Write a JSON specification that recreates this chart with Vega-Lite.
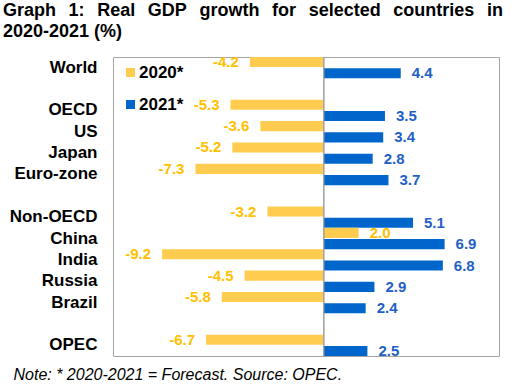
{
  "$schema": "https://vega.github.io/schema/vega-lite/v6.json",
  "width": 386,
  "height": 299,
  "autosize": "none",
  "padding": {"left": 113, "top": 57, "right": 16, "bottom": 33},
  "background": "white",
  "title": {
    "text": ["Graph\u2002\u20091:\u2002\u2009Real\u2002\u2009GDP\u2002\u2009growth\u2002\u2009for\u2002\u2009selected\u2002\u2009countries\u2002\u2009in", "2020-2021 (%)"],
    "anchor": "start",
    "frame": "group",
    "dx": -110,
    "offset": 14,
    "fontSize": 18,
    "fontWeight": "bold",
    "font": "Liberation Sans",
    "color": "black",
    "lineHeight": 21
  },
  "data": {
    "values": [
      {"region": "World", "year": "2020*", "value": -4.2},
      {"region": "World", "year": "2021*", "value": 4.4},
      {"region": "OECD", "year": "2020*", "value": -5.3},
      {"region": "OECD", "year": "2021*", "value": 3.5},
      {"region": "US", "year": "2020*", "value": -3.6},
      {"region": "US", "year": "2021*", "value": 3.4},
      {"region": "Japan", "year": "2020*", "value": -5.2},
      {"region": "Japan", "year": "2021*", "value": 2.8},
      {"region": "Euro-zone", "year": "2020*", "value": -7.3},
      {"region": "Euro-zone", "year": "2021*", "value": 3.7},
      {"region": "Non-OECD", "year": "2020*", "value": -3.2},
      {"region": "Non-OECD", "year": "2021*", "value": 5.1},
      {"region": "China", "year": "2020*", "value": 2.0},
      {"region": "China", "year": "2021*", "value": 6.9},
      {"region": "India", "year": "2020*", "value": -9.2},
      {"region": "India", "year": "2021*", "value": 6.8},
      {"region": "Russia", "year": "2020*", "value": -4.5},
      {"region": "Russia", "year": "2021*", "value": 2.9},
      {"region": "Brazil", "year": "2020*", "value": -5.8},
      {"region": "Brazil", "year": "2021*", "value": 2.4},
      {"region": "OPEC", "year": "2020*", "value": -6.7},
      {"region": "OPEC", "year": "2021*", "value": 2.5}
    ]
  },
  "encoding": {
    "y": {
      "field": "region",
      "type": "nominal",
      "scale": {
        "domain": ["World", "gap1", "OECD", "US", "Japan", "Euro-zone", "gap2", "Non-OECD", "China", "India", "Russia", "Brazil", "gap3", "OPEC"],
        "paddingInner": 0,
        "paddingOuter": 0
      },
      "axis": {
        "title": null,
        "ticks": false,
        "domain": false,
        "labelPadding": 16,
        "labelFontSize": 17,
        "labelFontWeight": "bold",
        "labelColor": "black",
        "labelFont": "Liberation Sans",
        "labelExpr": "indexof(datum.label, 'gap') == 0 ? '' : datum.label"
      }
    },
    "yOffset": {
      "field": "year",
      "type": "nominal",
      "scale": {"domain": ["2020*", "2021*"], "paddingInner": 0.1, "paddingOuter": 0}
    },
    "x": {
      "field": "value",
      "type": "quantitative",
      "scale": {"domain": [-12, 10], "nice": false},
      "axis": {
        "labels": false,
        "ticks": false,
        "domain": false,
        "grid": false,
        "title": "Note: * 2020-2021 = Forecast. Source: OPEC.",
        "titleFont": "Liberation Sans",
        "titleFontSize": 16,
        "titleFontStyle": "italic",
        "titleFontWeight": "normal",
        "titleColor": "black",
        "titleAnchor": "start",
        "titleAlign": "left",
        "titleBaseline": "alphabetic",
        "titleX": -100,
        "titleY": 23
      }
    }
  },
  "layer": [
    {
      "mark": {"type": "bar"},
      "encoding": {
        "color": {
          "field": "year",
          "type": "nominal",
          "scale": {"domain": ["2020*", "2021*"], "range": ["#FFCC4F", "#0066CC"]},
          "legend": {
            "title": null,
            "orient": "none",
            "legendX": 9,
            "legendY": 7,
            "padding": 0,
            "symbolType": "square",
            "symbolSize": 81,
            "symbolStrokeWidth": 0,
            "labelFontSize": 17,
            "labelFontWeight": "bold",
            "labelFont": "Liberation Sans",
            "labelColor": "black",
            "labelOffset": 0,
            "rowPadding": 14
          }
        }
      }
    },
    {
      "mark": {"type": "rule", "color": "#A6A6A6", "strokeWidth": 1},
      "encoding": {"x": {"datum": 0}, "y": null, "yOffset": null}
    },
    {
      "mark": {
        "type": "text",
        "font": "Liberation Sans",
        "fontSize": 15,
        "fontWeight": "bold",
        "baseline": "middle",
        "align": {"expr": "datum.value < 0 ? 'right' : 'left'"},
        "dx": {"expr": "datum.value < 0 ? -11 : 11"}
      },
      "encoding": {
        "text": {"field": "value", "type": "quantitative", "format": ".1f"},
        "color": {
          "condition": {"test": "datum.year == '2020*'", "value": "#FFC000"},
          "value": "#1F5FC8"
        }
      }
    }
  ],
  "config": {
    "font": "Liberation Sans",
    "locale": {"number": {"decimal": ".", "thousands": ",", "grouping": [3], "currency": ["", ""], "minus": "-"}},
    "view": {"stroke": "#A6A6A6", "strokeWidth": 1}
  }
}
